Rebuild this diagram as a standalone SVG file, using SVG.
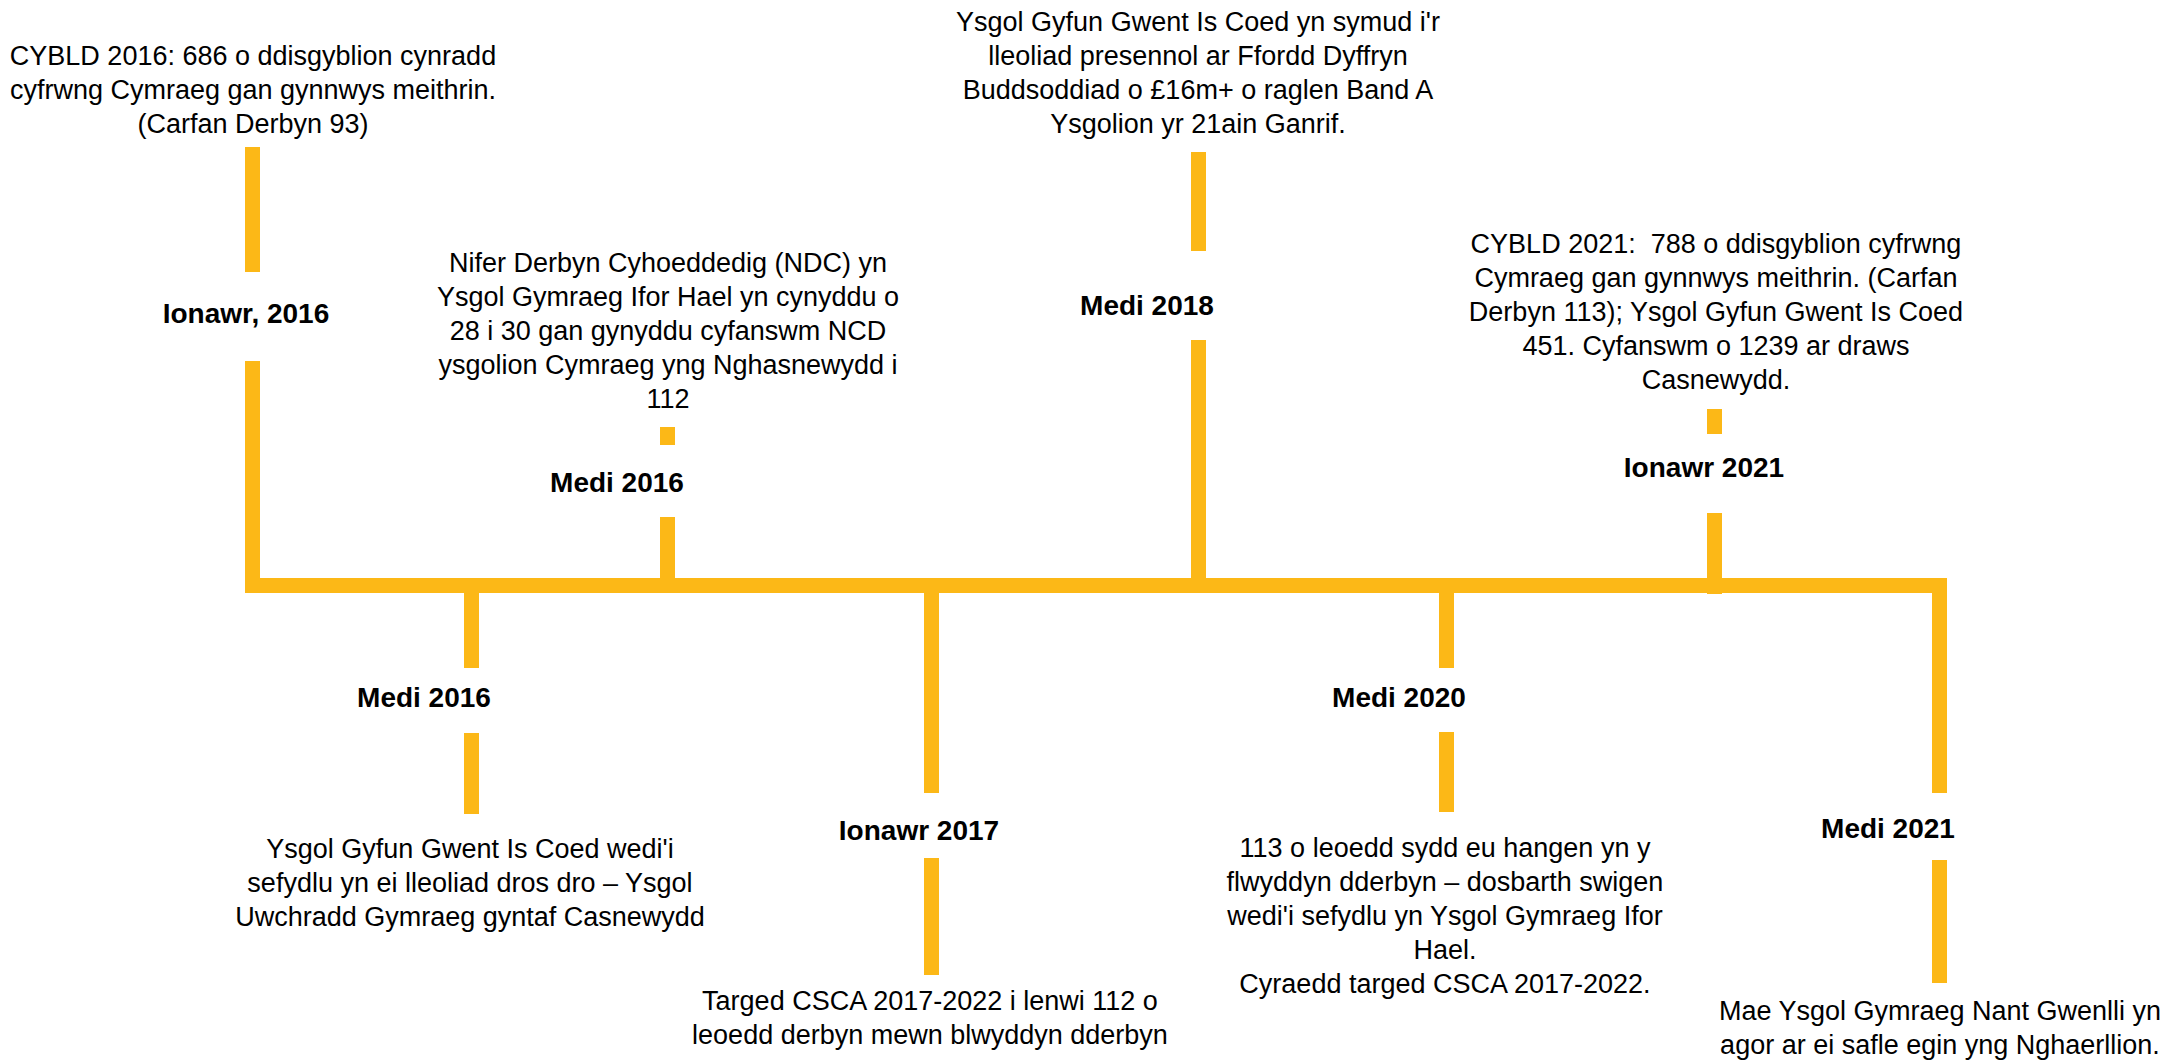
<svg xmlns="http://www.w3.org/2000/svg" width="2178" height="1062" viewBox="0 0 2178 1062">
<style>
.t{font-family:"Liberation Sans",Arial,sans-serif;font-size:27px;fill:#000;text-anchor:middle}
.b{font-family:"Liberation Sans",Arial,sans-serif;font-size:28px;font-weight:bold;fill:#000;text-anchor:middle}
.c{fill:#FCB817}
</style>
<rect width="2178" height="1062" fill="#fff"/>
<g id="connectors">
<rect class="c" x="245" y="578" width="1702" height="15"/>
<rect class="c" x="245" y="147" width="15" height="125"/>
<rect class="c" x="245" y="361" width="15" height="232"/>
<rect class="c" x="660" y="427" width="15" height="18"/>
<rect class="c" x="660" y="517" width="15" height="68"/>
<rect class="c" x="1191" y="152" width="15" height="99"/>
<rect class="c" x="1191" y="340" width="15" height="245"/>
<rect class="c" x="1707" y="409" width="15" height="25"/>
<rect class="c" x="1707" y="513" width="15" height="81"/>
<rect class="c" x="464" y="585" width="15" height="83"/>
<rect class="c" x="464" y="733" width="15" height="81"/>
<rect class="c" x="924" y="585" width="15" height="208"/>
<rect class="c" x="924" y="858" width="15" height="117"/>
<rect class="c" x="1439" y="585" width="15" height="83"/>
<rect class="c" x="1439" y="732" width="15" height="80"/>
<rect class="c" x="1932" y="578" width="15" height="215"/>
<rect class="c" x="1932" y="860" width="15" height="123"/>
</g>
<g id="ionawr2016">
<text class="t" x="253" y="65">CYBLD 2016: 686 o ddisgyblion cynradd</text>
<text class="t" x="253" y="99">cyfrwng Cymraeg gan gynnwys meithrin.</text>
<text class="t" x="253" y="133">(Carfan Derbyn 93)</text>
<text class="b" x="246" y="323">Ionawr, 2016</text>
</g>
<g id="medi2016a">
<text class="t" x="668" y="272">Nifer Derbyn Cyhoeddedig (NDC) yn</text>
<text class="t" x="668" y="306">Ysgol Gymraeg Ifor Hael yn cynyddu o</text>
<text class="t" x="668" y="340">28 i 30 gan gynyddu cyfanswm NCD</text>
<text class="t" x="668" y="374">ysgolion Cymraeg yng Nghasnewydd i</text>
<text class="t" x="668" y="408">112</text>
<text class="b" x="617" y="492">Medi 2016</text>
</g>
<g id="medi2018">
<text class="t" x="1198" y="31">Ysgol Gyfun Gwent Is Coed yn symud i'r</text>
<text class="t" x="1198" y="65">lleoliad presennol ar Ffordd Dyffryn</text>
<text class="t" x="1198" y="99">Buddsoddiad o £16m+ o raglen Band A</text>
<text class="t" x="1198" y="133">Ysgolion yr 21ain Ganrif.</text>
<text class="b" x="1147" y="315">Medi 2018</text>
</g>
<g id="ionawr2021">
<text class="t" x="1716" y="253">CYBLD 2021:&#160; 788 o ddisgyblion cyfrwng</text>
<text class="t" x="1716" y="287">Cymraeg gan gynnwys meithrin. (Carfan</text>
<text class="t" x="1716" y="321">Derbyn 113); Ysgol Gyfun Gwent Is Coed</text>
<text class="t" x="1716" y="355">451. Cyfanswm o 1239 ar draws</text>
<text class="t" x="1716" y="389">Casnewydd.</text>
<text class="b" x="1704" y="477">Ionawr 2021</text>
</g>
<g id="medi2016b">
<text class="b" x="424" y="707">Medi 2016</text>
<text class="t" x="470" y="858">Ysgol Gyfun Gwent Is Coed wedi'i</text>
<text class="t" x="470" y="892">sefydlu yn ei lleoliad dros dro – Ysgol</text>
<text class="t" x="470" y="926">Uwchradd Gymraeg gyntaf Casnewydd</text>
</g>
<g id="ionawr2017">
<text class="b" x="919" y="840">Ionawr 2017</text>
<text class="t" x="930" y="1010">Targed CSCA 2017-2022 i lenwi 112 o</text>
<text class="t" x="930" y="1044">leoedd derbyn mewn blwyddyn dderbyn</text>
</g>
<g id="medi2020">
<text class="b" x="1399" y="707">Medi 2020</text>
<text class="t" x="1445" y="857">113 o leoedd sydd eu hangen yn y</text>
<text class="t" x="1445" y="891">flwyddyn dderbyn – dosbarth swigen</text>
<text class="t" x="1445" y="925">wedi'i sefydlu yn Ysgol Gymraeg Ifor</text>
<text class="t" x="1445" y="959">Hael.</text>
<text class="t" x="1445" y="993">Cyraedd targed CSCA 2017-2022.</text>
</g>
<g id="medi2021">
<text class="b" x="1888" y="838">Medi 2021</text>
<text class="t" x="1940" y="1020">Mae Ysgol Gymraeg Nant Gwenlli yn</text>
<text class="t" x="1940" y="1054">agor ar ei safle egin yng Nghaerllion.</text>
</g>
</svg>
